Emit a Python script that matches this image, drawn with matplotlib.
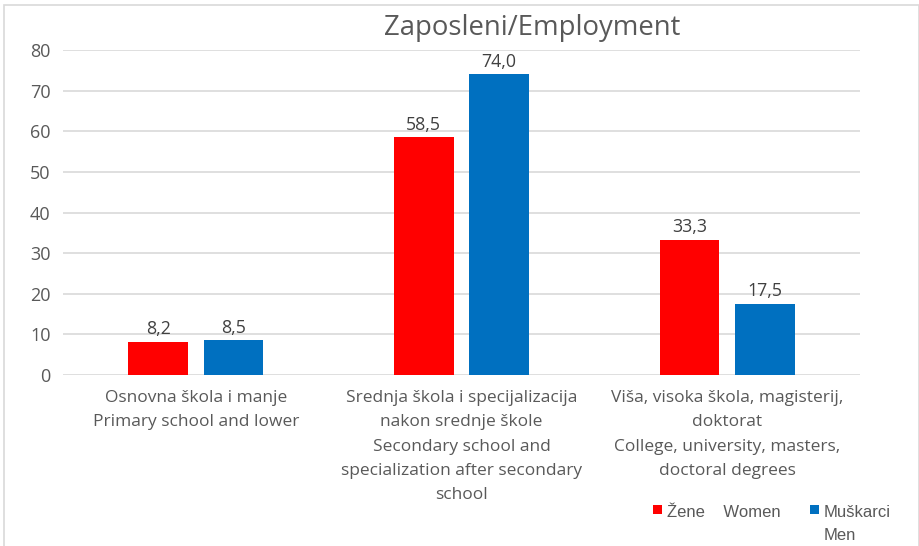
import matplotlib
matplotlib.use("Agg")
import matplotlib.pyplot as plt
import numpy as np
from matplotlib.patches import Rectangle

# Data
categories = [
    "Osnovna škola i manje\nPrimary school and lower",
    "Srednja škola i specijalizacija\nnakon srednje škole\nSecondary school and\nspecialization after secondary\nschool",
    "Viša, visoka škola, magisterij,\ndoktorat\nCollege, university, masters,\ndoctoral degrees",
]
women = [8.2, 58.5, 33.3]
men = [8.5, 74.0, 17.5]
series_labels = ["Žene    Women", "Muškarci\nMen"]
y_ticks = [0, 10, 20, 30, 40, 50, 60, 70, 80]
title = "Zaposleni/Employment"

RED = "#FF0000"
BLUE = "#0070C0"
TEXT = "#595959"
GRID = "#D9D9D9"
FONT = "Open Sans"

W, H = 920, 546
fig = plt.figure(figsize=(W / 100, H / 100), dpi=100)

# chart border (bottom edge runs off the canvas)
fig.patches.append(Rectangle((4 / W, -0.05), 915 / W, 1.05 - 5 / H,
                             transform=fig.transFigure, fill=False,
                             edgecolor=GRID, linewidth=1.2))

ax = fig.add_axes([63 / W, 1 - 375 / H, (860 - 63) / W, (375 - 50) / H])

x = np.arange(len(categories))
bw = 0.225
off = 0.142
b1 = ax.bar(x - off, women, bw, color=RED, zorder=3)
b2 = ax.bar(x + off, men, bw, color=BLUE, zorder=3)

for bars, vals in ((b1, women), (b2, men)):
    for rect, v in zip(bars, vals):
        ax.annotate(f"{v:.1f}".replace(".", ","),
                    (rect.get_x() + rect.get_width() / 2, v),
                    xytext=(0, 2.5), textcoords="offset points",
                    ha="center", va="bottom", fontsize=12.8,
                    color="#404040", family=FONT)

ax.set_xlim(-0.5, len(categories) - 0.5)
ax.set_ylim(0, 80)
ax.set_yticks(y_ticks)
ax.set_yticklabels([str(t) for t in y_ticks], family=FONT, fontsize=13, color=TEXT)
ax.set_xticks(x)
ax.set_xticklabels(categories, family=FONT, fontsize=12.5, color=TEXT,
                   linespacing=1.68, va="top")
ax.tick_params(axis="both", length=0)
ax.tick_params(axis="y", pad=9)
ax.tick_params(axis="x", pad=11)
ax.grid(axis="y", color=GRID, linewidth=1.2, zorder=0)
for s in ax.spines.values():
    s.set_visible(False)

fig.text(532 / W, 1 - 28 / H, title, ha="center", va="center",
         fontsize=19.8, color=TEXT, family=FONT)

# legend: square key followed by the series name, lines stacked downward
legend_x = [653, 810]
key_top, key_size = 505, 9
base0, line_step = 517, 23
for lx, bars, label in zip(legend_x, (b1, b2), series_labels):
    fig.patches.append(Rectangle((lx / W, 1 - (key_top + key_size) / H),
                                 key_size / W, key_size / H,
                                 transform=fig.transFigure,
                                 facecolor=bars[0].get_facecolor(),
                                 edgecolor="none"))
    for i, line in enumerate(label.split("\n")):
        fig.text((lx + key_size + 5) / W, 1 - (base0 + i * line_step) / H,
                 line, ha="left", va="baseline", fontsize=12,
                 color=TEXT, family="Liberation Sans")

fig.savefig("out.png", dpi=100, facecolor="white")
